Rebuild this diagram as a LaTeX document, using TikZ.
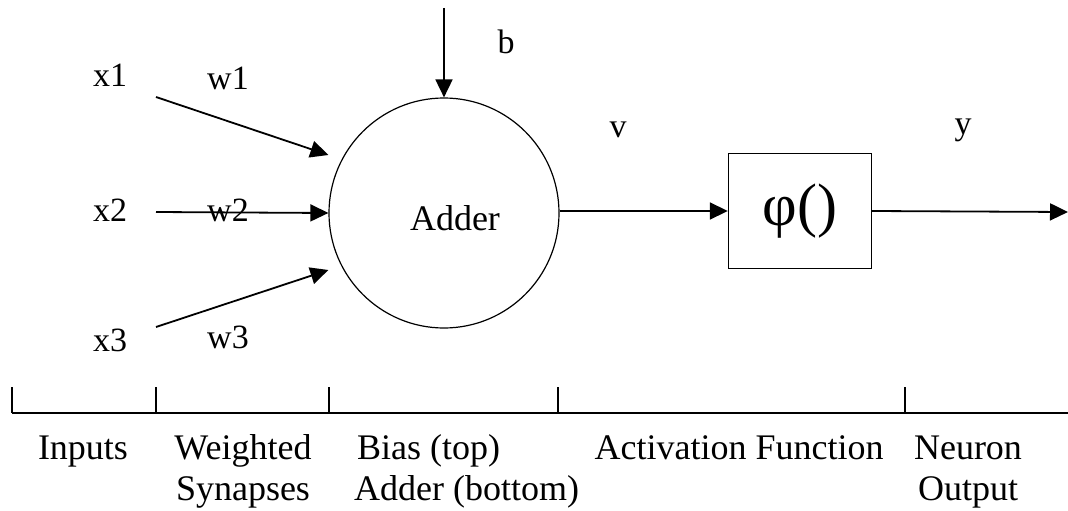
\documentclass[tikz,border=0pt]{standalone}
\usepackage{fontspec}
\setmainfont{Liberation Serif}
\usetikzlibrary{arrows.meta,calc,positioning}

\begin{document}
\begin{tikzpicture}[x=1pt,y=-1pt,
    wire/.style={line width=1.8pt, -{Triangle[length=18pt,width=17pt]}},
    lbl/.style={font=\fontsize{34}{36}\selectfont, inner sep=0pt},
    caption/.style={font=\fontsize{36}{42}\selectfont, inner sep=0pt, anchor=base}]
    \useasboundingbox (0,0) rectangle (1068,511);

    % neuron body and activation box
    \node[circle, draw, line width=1.2pt, minimum size=230pt, inner sep=0pt] (adder) at (444,213) {};
    \node[lbl, font=\fontsize{36}{40}\selectfont] (addertext) at (455,218) {Adder};
    \node[draw, line width=1.4pt, minimum width=143pt, minimum height=115pt, inner sep=0pt,
          font=\fontsize{60}{62}\selectfont] (phi) at (800,211) {φ()};

    % inputs and weights
    \foreach \i/\y in {1/75,2/210,3/340} {
        \node[lbl] (x\i) at (110,\y) {x\i};
    }
    \node[lbl] (w1) at (228,78) {w1};
    \node[lbl] (w2) at (228,210) {w2};
    \node[lbl] (w3) at (228,337) {w3};
    \coordinate (s1) at (156,97);
    \coordinate (s2) at (156,212);
    \coordinate (s3) at (156,327);
    \draw[wire] (s1) -- ([yshift=58pt]adder.west);
    \draw[wire] (s2) -- (adder.west);
    \draw[wire] (s3) -- ([yshift=-57pt]adder.west);

    % bias
    \coordinate (btop) at (444,8);
    \draw[wire] (btop) -- (adder.north);
    \node[lbl] (b) at (506,42) {b};

    % output path
    \coordinate (yend) at (1068,212);
    \draw[wire] (adder.east |- phi.west) -- (phi.west);
    \draw[wire] (phi.east) -- (yend);
    \node[lbl] (v) at (618,130) {v};
    \node[lbl] (y) at (963,130) {y};

    % stage axis
    \coordinate (axl) at (12,413);
    \coordinate (axr) at (1068,413);
    \draw[line width=1.2pt] (axl) -- (axr);
    \foreach \x in {12,156,329,558,905} {
        \draw[line width=1.2pt] (\x,387) -- (\x,413);
    }

    \node[caption] (inputs) at (83,459) {Inputs};
    \node[caption] (weighted) at (243,459) {Weighted};
    \node[caption] (synapses) at (243,500) {Synapses};
    \node[caption, anchor=base west] (bias) at (357,459) {Bias (top)};
    \node[caption, anchor=base west] (addercap) at (354,500) {Adder (bottom)};
    \node[caption] (activation) at (739,459) {Activation Function};
    \node[caption] (neuron) at (968,459) {Neuron};
    \node[caption] (output) at (968,500) {Output};
\end{tikzpicture}
\end{document}
